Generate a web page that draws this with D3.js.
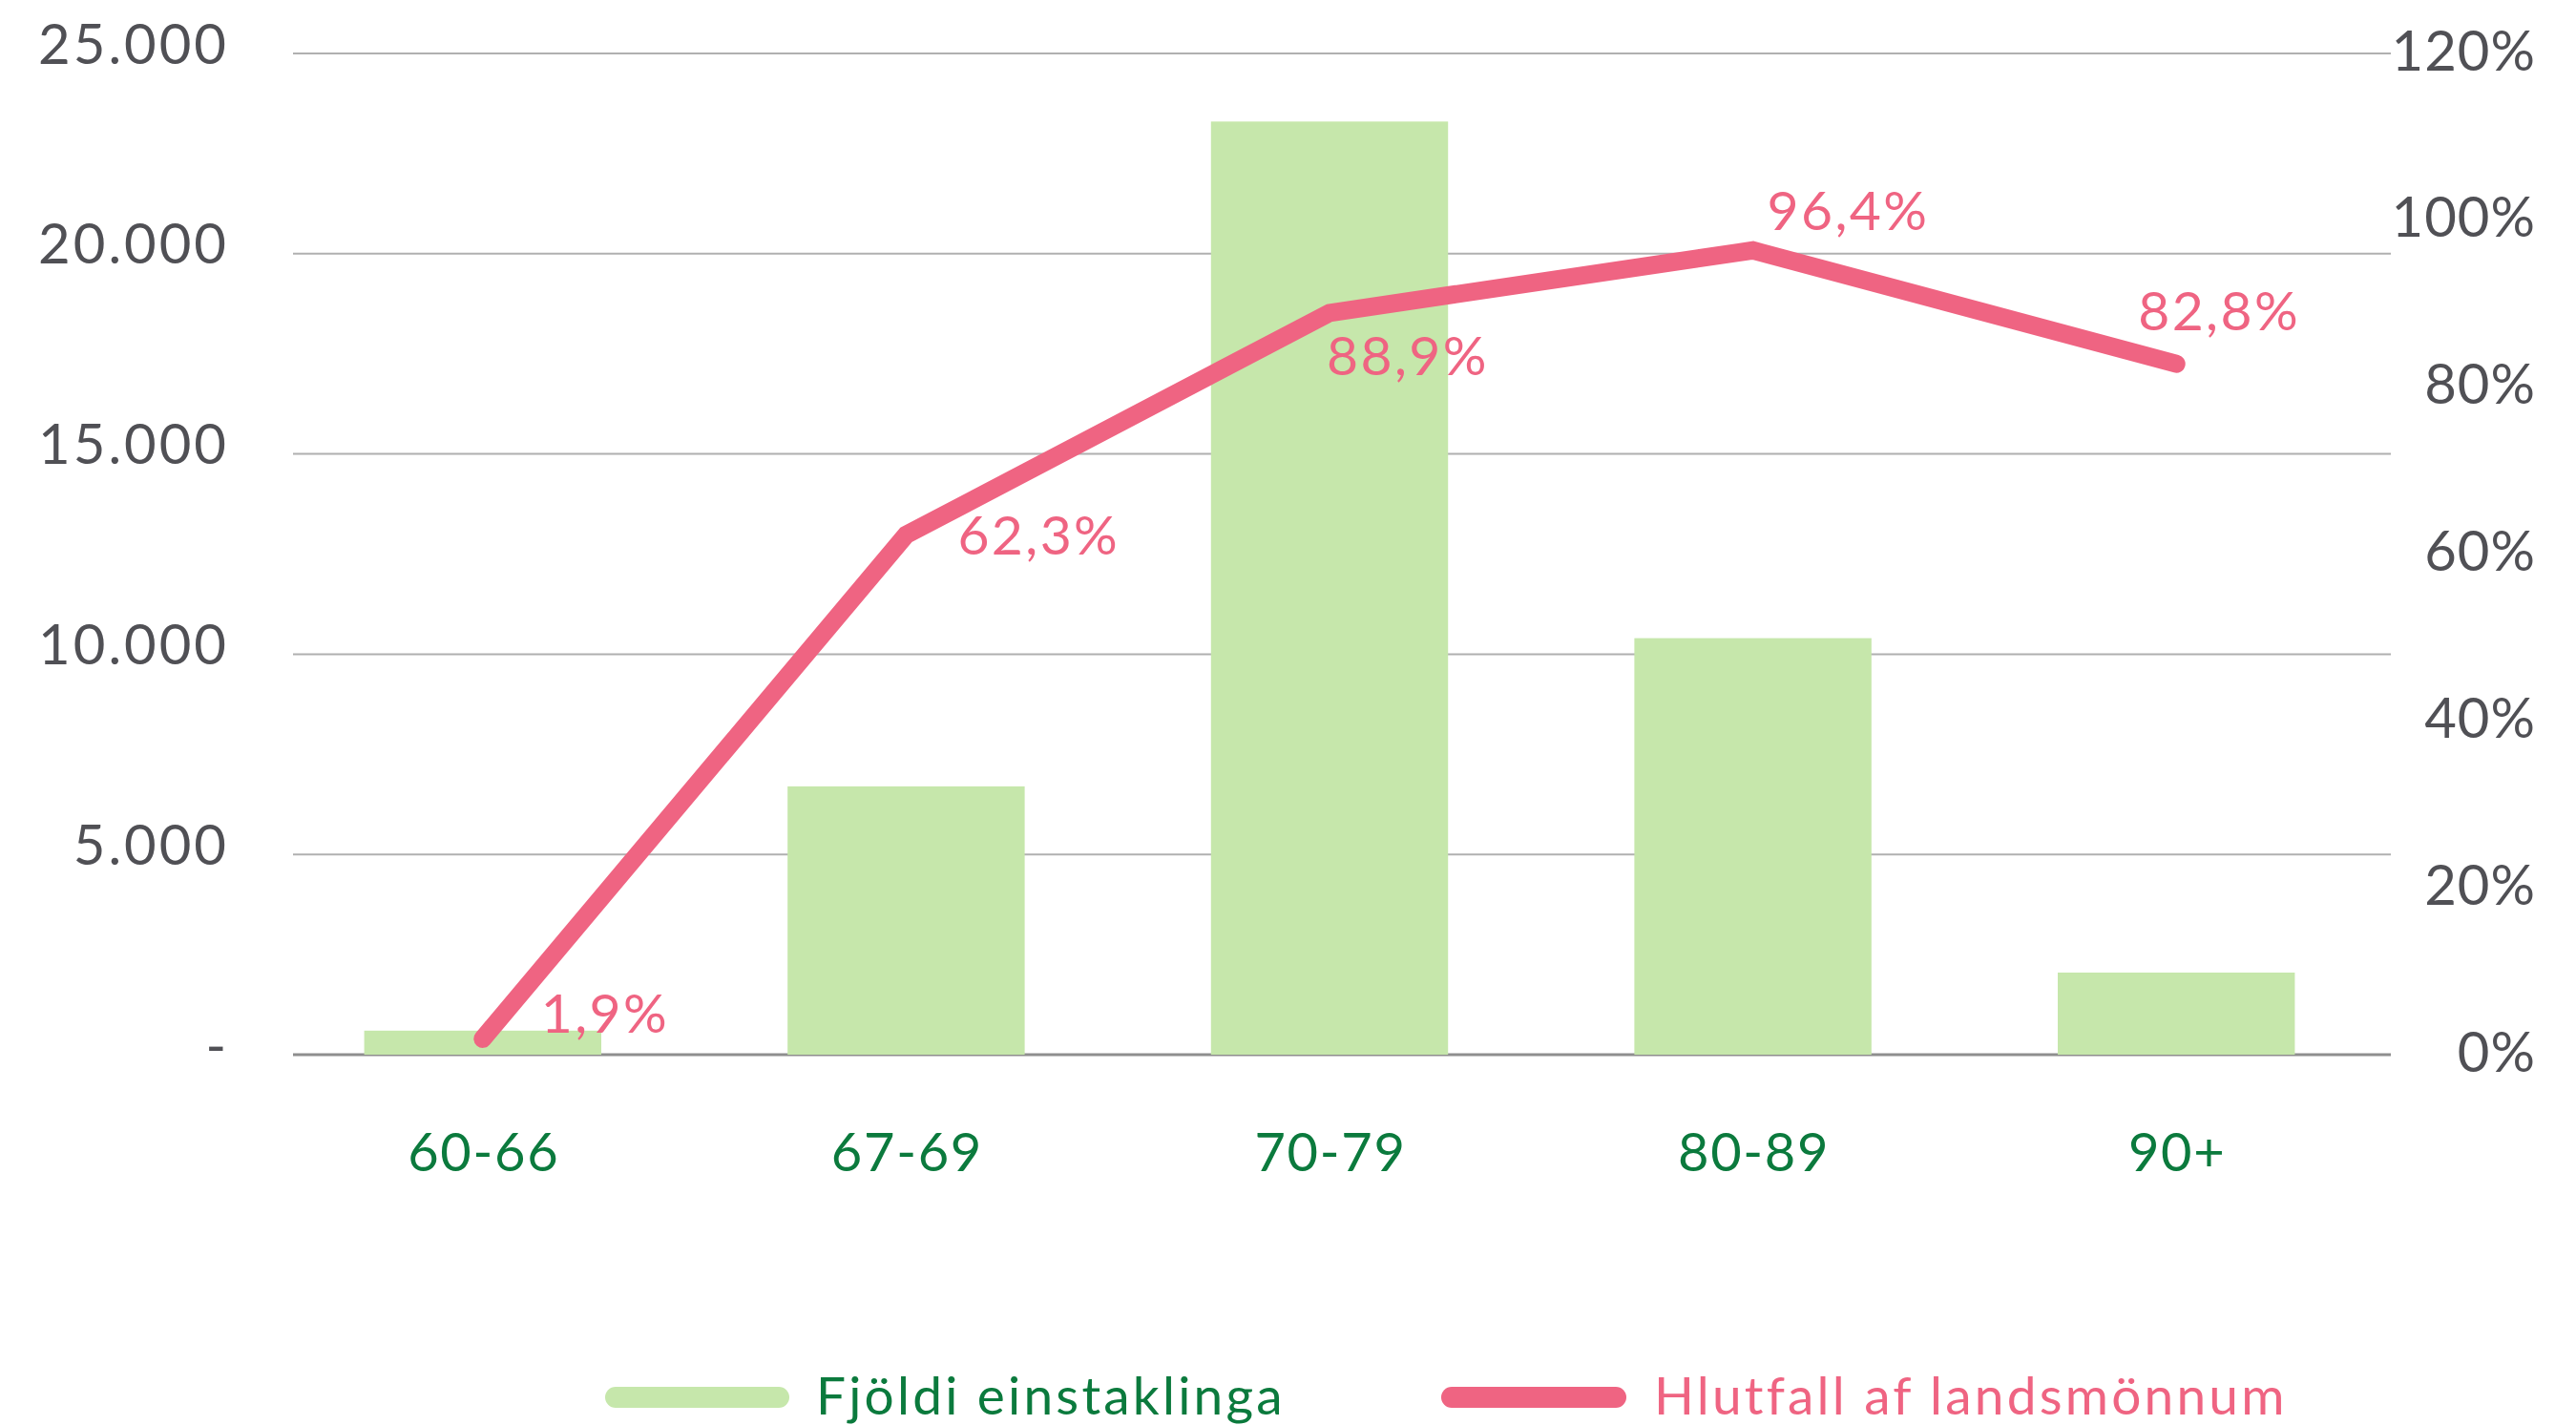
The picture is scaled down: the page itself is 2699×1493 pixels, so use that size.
<!DOCTYPE html>
<html lang="is">
<head>
<meta charset="UTF-8">
<title>Fjöldi einstaklinga og hlutfall af landsmönnum</title>
<script src="https://cdnjs.cloudflare.com/ajax/libs/d3/7.8.5/d3.min.js"></script>
<style>
  body { margin: 0; background: #fff; }
  svg { display: block; }
  text { font-family: 'Lato', sans-serif; }
</style>
</head>
<body>
<script>
  // Data
  const categories = ["60-66", "67-69", "70-79", "80-89", "90+"];
  const counts = [600, 6700, 23300, 10400, 2050];          // Fjöldi einstaklinga
  const shares = [1.9, 62.3, 88.9, 96.4, 82.8];             // Hlutfall af landsmönnum (%)
  const countTicks = [0, 5000, 10000, 15000, 20000, 25000];
  const shareTicks = [0, 20, 40, 60, 80, 100, 120];
  const seriesNames = ["Fjöldi einstaklinga", "Hlutfall af landsmönnum"];

  // layout: where each value label sits relative to its point [dx, dy]
  const labelOffsets = [[61, -27], [54, 0], [-3, 44], [15, -42], [-40, -56]];

  const W = 2699, H = 1493;
  const barColor = "#c6e7ab", lineColor = "#ef6482", catColor = "#0b7a3d", axisText = "#505055";

  const isl = d3.formatLocale({ decimal: ",", thousands: ".", grouping: [3], currency: ["", ""] });
  const fmtCount = d => d === 0 ? "-" : isl.format(",")(d);
  const fmtShare = d => isl.format(",.1f")(d) + "%";

  const svg = d3.select("body").append("svg")
    .attr("width", W)
    .attr("height", H);

  const x = d3.scaleBand().domain(categories).range([284, 2502]).paddingInner(0.44).paddingOuter(0.22);
  const yL = d3.scaleLinear().domain([0, 25000]).range([1105, 56]);
  const yR = d3.scaleLinear().domain([0, 120]).range([1105, 56]);

  // gridlines
  svg.append("g")
    .selectAll("line")
    .data(countTicks)
    .enter().append("line")
    .attr("x1", 307).attr("x2", 2505)
    .attr("y1", d => yL(d)).attr("y2", d => yL(d))
    .attr("stroke", d => d === 0 ? "#8e8e8e" : "#b0b0b0")
    .attr("stroke-width", d => d === 0 ? 3 : 2);

  // left axis (letter-spacing adds a trailing gap, so shift by it)
  const left = svg.append("g")
    .attr("transform", "translate(240,0)")
    .call(d3.axisLeft(yL).tickValues(countTicks).tickFormat(fmtCount).tickSize(0).tickPadding(0));
  left.select(".domain").remove();
  left.selectAll("text")
    .attr("fill", axisText).attr("font-size", 58).attr("dy", null)
    .attr("letter-spacing", 3)
    .attr("y", 10).attr("text-anchor", "end");

  // right axis
  const right = svg.append("g")
    .attr("transform", "translate(2657,0)")
    .call(d3.axisLeft(yR).tickValues(shareTicks).tickFormat(d => d + "%").tickSize(0).tickPadding(0));
  right.select(".domain").remove();
  right.selectAll("text")
    .attr("fill", axisText).attr("font-size", 58).attr("dy", null)
    .attr("letter-spacing", 1)
    .attr("y", 17).attr("text-anchor", "end");

  // bars
  svg.append("g")
    .selectAll("rect")
    .data(counts)
    .enter().append("rect")
    .attr("x", (d, i) => x(categories[i]))
    .attr("width", x.bandwidth())
    .attr("y", d => yL(d))
    .attr("height", d => yL(0) - yL(d))
    .attr("fill", barColor);

  // category axis
  const bottom = svg.append("g")
    .attr("transform", "translate(1,1105)")
    .call(d3.axisBottom(x).tickSize(0).tickPadding(0));
  bottom.select(".domain").remove();
  bottom.selectAll("text")
    .attr("fill", catColor).attr("font-size", 56).attr("dy", null)
    .attr("letter-spacing", 1.7)
    .attr("y", 122);

  // line
  const cx = i => x(categories[i]) + x.bandwidth() / 2;
  const line = d3.line()
    .x((d, i) => cx(i))
    .y(d => yR(d));

  svg.append("path")
    .datum(shares)
    .attr("d", line)
    .attr("fill", "none")
    .attr("stroke", lineColor)
    .attr("stroke-width", 19)
    .attr("stroke-linecap", "round")
    .attr("stroke-linejoin", "miter");

  // value labels
  svg.append("g")
    .selectAll("text")
    .data(shares)
    .enter().append("text")
    .attr("x", (d, i) => cx(i) + labelOffsets[i][0])
    .attr("y", (d, i) => yR(d) + labelOffsets[i][1] + 21)
    .attr("fill", lineColor)
    .attr("font-size", 57)
    .attr("letter-spacing", 2.4)
    .text(fmtShare);

  // legend
  const legend = svg.append("g");
  const legendItems = [
    { name: seriesNames[0], color: barColor, text: catColor, x0: 645, x1: 816, tx: 855 },
    { name: seriesNames[1], color: lineColor, text: lineColor, x0: 1521, x1: 1693, tx: 1733 }
  ];
  legendItems.forEach(it => {
    legend.append("line")
      .attr("x1", it.x0).attr("x2", it.x1)
      .attr("y1", 1464).attr("y2", 1464)
      .attr("stroke", it.color)
      .attr("stroke-width", 22)
      .attr("stroke-linecap", "round");
    legend.append("text")
      .attr("x", it.tx).attr("y", 1482)
      .attr("fill", it.text)
      .attr("font-size", 55)
      .attr("letter-spacing", 3.2)
      .text(it.name);
  });
</script>
</body>
</html>
